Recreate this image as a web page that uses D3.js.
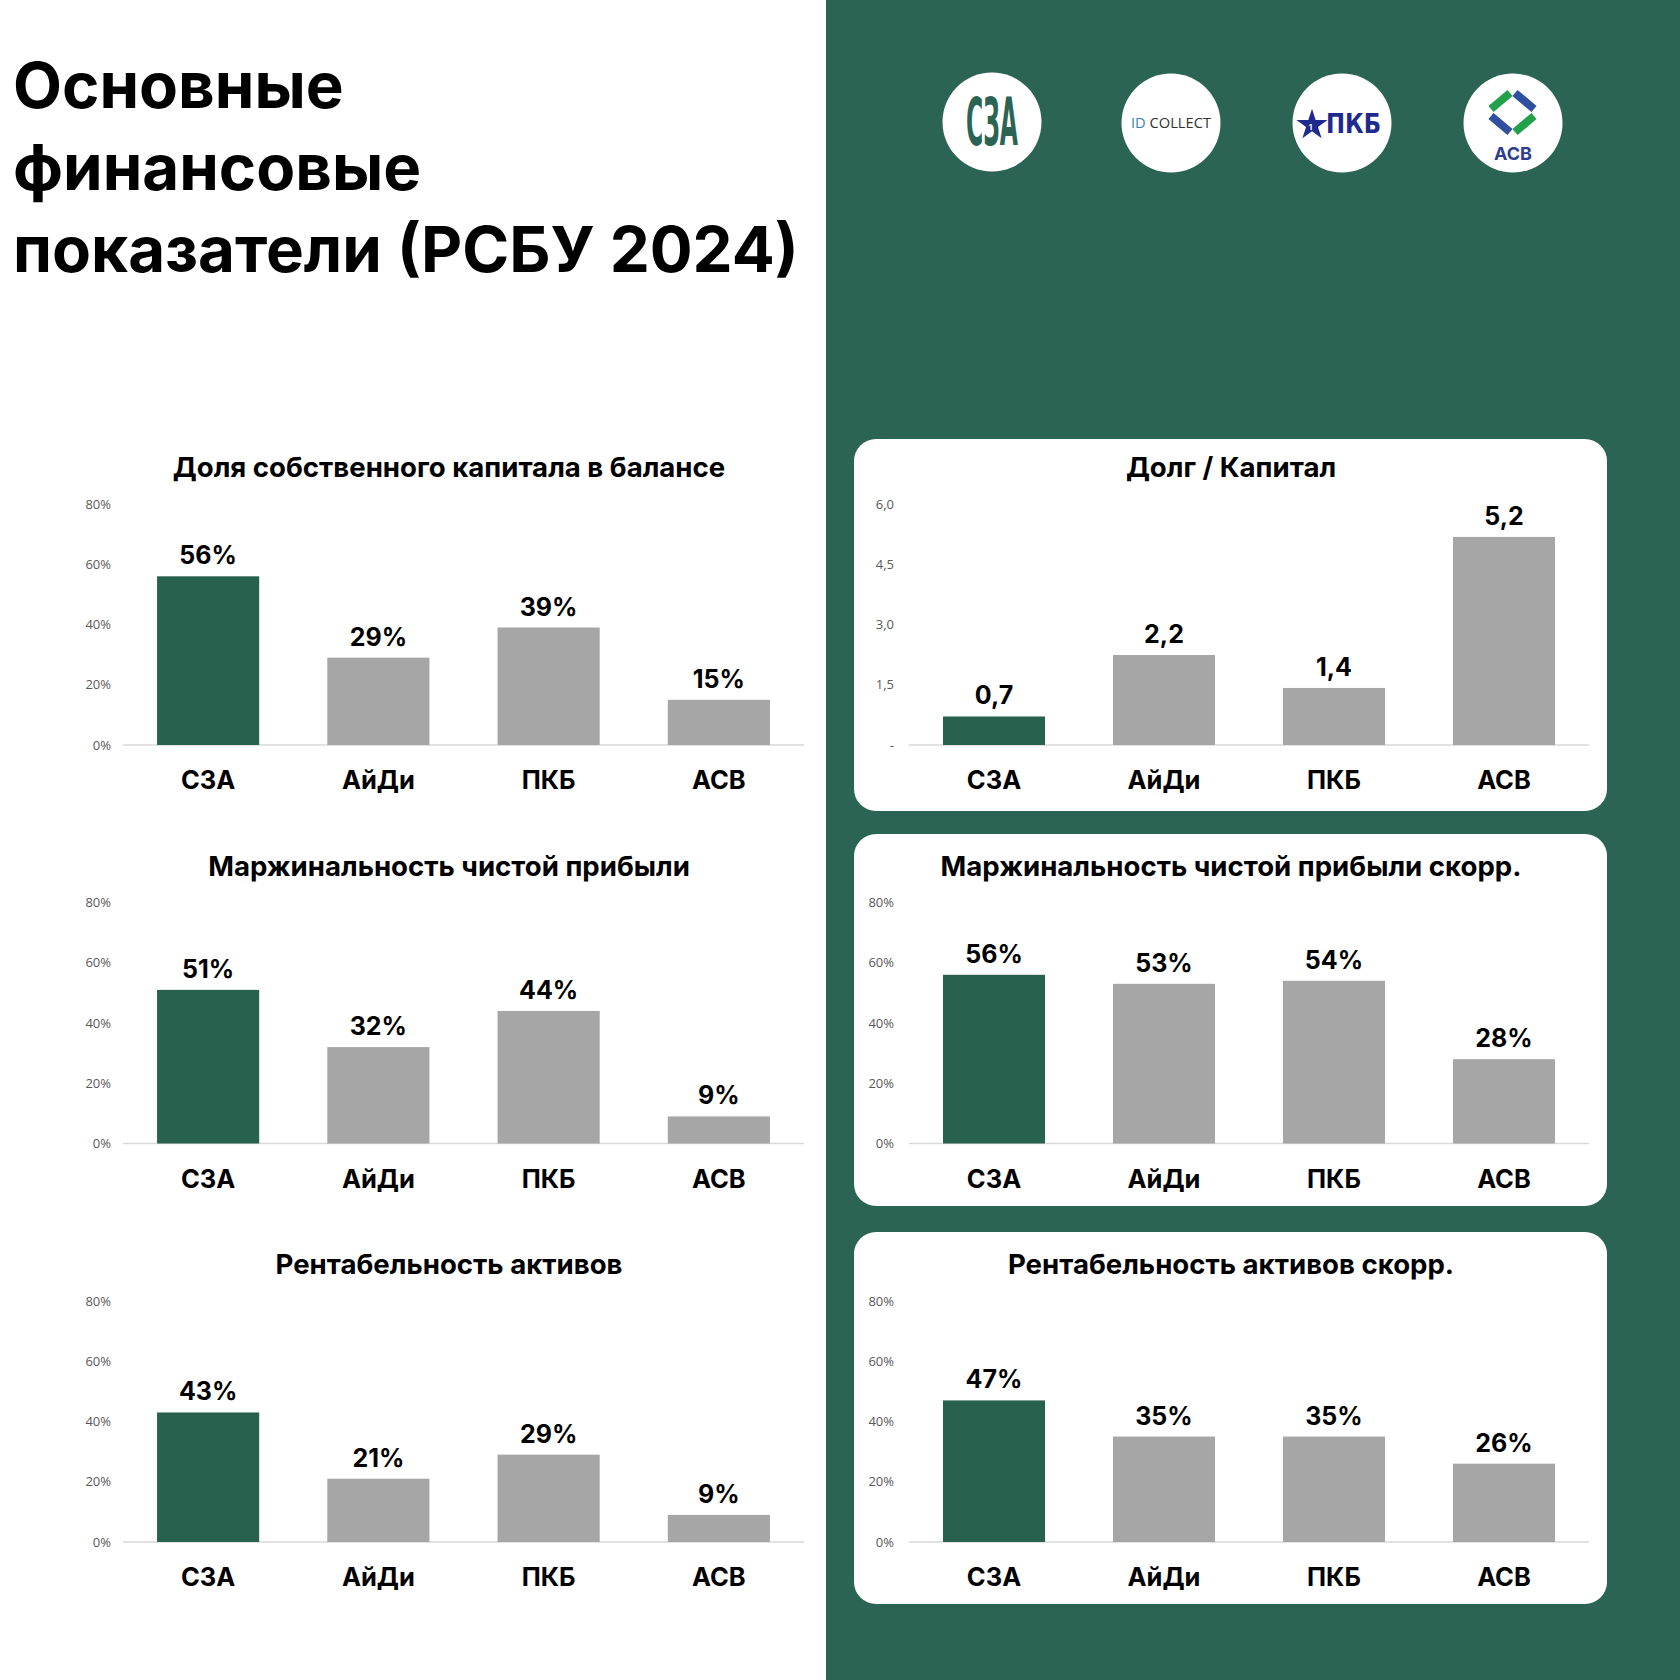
<!DOCTYPE html>
<html><head><meta charset="utf-8">
<script src="https://cdn.jsdelivr.net/npm/d3@7"></script>
<style>body{margin:0;background:#fff} svg{display:block}</style>
</head><body><svg id="c" width="1680" height="1680"></svg>
<script>
// ---------- DATA ----------
const categories = ["СЗА", "АйДи", "ПКБ", "АСВ"];
const equityShare = [56, 29, 39, 15];          // Доля собственного капитала в балансе, %
const netMargin = [51, 32, 44, 9];             // Маржинальность чистой прибыли, %
const roa = [43, 21, 29, 9];                   // Рентабельность активов, %
const debtToEquity = [0.71, 2.24, 1.42, 5.18]; // Долг / Капитал
const netMarginAdj = [56, 53, 54, 28];         // Маржинальность чистой прибыли скорр., %
const roaAdj = [47, 35, 35, 26];               // Рентабельность активов скорр., %
const pctTicks = [0, 20, 40, 60, 80];
const debtTicks = [0, 1.5, 3, 4.5, 6];
const titleLines = ["Основные", "финансовые", "показатели (РСБУ 2024)"];
const chartTitles = ["Доля собственного капитала в балансе", "Маржинальность чистой прибыли",
  "Рентабельность активов", "Долг / Капитал", "Маржинальность чистой прибыли скорр.",
  "Рентабельность активов скорр."];

// ---------- STYLE ----------
const PANEL_GREEN = "#2b6455", BAR_GREEN = "#29614f", GREY = "#a6a6a6";
const FONT = "Inter, 'Noto Sans', 'DejaVu Sans', sans-serif";
const svg = d3.select("#c");

svg.append("rect").attr("width", 1680).attr("height", 1680).attr("fill", "#fff");
svg.append("rect").attr("x", 826).attr("width", 854).attr("height", 1680).attr("fill", PANEL_GREEN);

// ---------- MAIN TITLE ----------
const tl = svg.append("g").attr("font-family", FONT).attr("font-weight", 700).attr("fill", "#000")
  .selectAll("text").data(titleLines).join("text")
  .attr("x", 13).attr("y", (d, i) => 108 + i * 82).attr("font-size", 64).text(d => d);
const wTitle = tl.nodes()[2].getComputedTextLength();
tl.attr("font-size", 64 * 786 / wTitle);

// ---------- LOGOS ----------
const logoCenters = [[992, 122], [1171, 123], [1342, 123], [1513, 123]];
svg.append("g").selectAll("circle").data(logoCenters).join("circle")
  .attr("cx", d => d[0]).attr("cy", d => d[1]).attr("r", 49.5).attr("fill", "#fff");

// logo 1: СЗА
svg.append("text").attr("x", 966).attr("y", 145).attr("font-family", "'Liberation Sans Narrow', 'DejaVu Sans Condensed', sans-serif")
  .attr("font-weight", 700).attr("font-size", 66).attr("fill", PANEL_GREEN)
  .attr("textLength", 52).attr("lengthAdjust", "spacingAndGlyphs").text("СЗА");

// logo 2: ID COLLECT
const t2 = svg.append("text").attr("x", 1131).attr("y", 128).attr("font-family", "'Open Sans', sans-serif")
  .attr("font-size", 14).attr("textLength", 80).attr("lengthAdjust", "spacingAndGlyphs");
t2.append("tspan").attr("fill", "#3b7fc4").text("ID ");
t2.append("tspan").attr("fill", "#333").text("COLLECT");

// logo 3: ПКБ
svg.append("path").attr("d", d3.symbol(d3.symbolStar, 300)()).attr("transform", "translate(1312,125)")
  .attr("fill", "#1f2a8f");
svg.append("text").attr("x", 1310.5).attr("y", 130).attr("font-family", FONT).attr("font-size", 8)
  .attr("font-weight", 700).attr("fill", "#fff").attr("text-anchor", "middle").text("1");
svg.append("text").attr("x", 1326).attr("y", 133).attr("font-family", "'Liberation Sans Narrow', 'DejaVu Sans Condensed', sans-serif")
  .attr("font-weight", 700).attr("font-size", 26).attr("fill", "#1f2a8f")
  .attr("textLength", 55).attr("lengthAdjust", "spacingAndGlyphs").text("ПКБ");

// logo 4: АСВ
const asvSegs = [
  [[1491, 109], [1510, 93], "#22a04a"], [[1515, 93], [1534, 109], "#2f4f9f"],
  [[1491, 116], [1510, 132], "#2f4f9f"], [[1515, 132], [1534, 116], "#22a04a"]];
svg.append("g").selectAll("line").data(asvSegs).join("line")
  .attr("x1", d => d[0][0]).attr("y1", d => d[0][1]).attr("x2", d => d[1][0]).attr("y2", d => d[1][1])
  .attr("stroke", d => d[2]).attr("stroke-width", 8);
svg.append("text").attr("x", 1513).attr("y", 160).attr("text-anchor", "middle").attr("font-family", FONT)
  .attr("font-weight", 700).attr("font-size", 18).attr("fill", "#2e3d8f").text("АСВ");

// ---------- CHARTS ----------
const pctFmt = d => d + "%";
const debtFmt = d => d === 0 ? "-" : d.toFixed(1).replace(".", ",");
const specs = [
  { title: chartTitles[0], values: equityShare, ticks: pctTicks, max: 80, tickFmt: pctFmt, valFmt: pctFmt, side: 0, row: 0 },
  { title: chartTitles[1], values: netMargin, ticks: pctTicks, max: 80, tickFmt: pctFmt, valFmt: pctFmt, side: 0, row: 1 },
  { title: chartTitles[2], values: roa, ticks: pctTicks, max: 80, tickFmt: pctFmt, valFmt: pctFmt, side: 0, row: 2 },
  { title: chartTitles[3], values: debtToEquity, ticks: debtTicks, max: 6, tickFmt: debtFmt, valFmt: d => d.toFixed(1).replace(".", ","), side: 1, row: 0 },
  { title: chartTitles[4], values: netMarginAdj, ticks: pctTicks, max: 80, tickFmt: pctFmt, valFmt: pctFmt, side: 1, row: 1 },
  { title: chartTitles[5], values: roaAdj, ticks: pctTicks, max: 80, tickFmt: pctFmt, valFmt: pctFmt, side: 1, row: 2 }
];
const sides = [{ x0: 123, x1: 804, cx: 449, pad: 12 }, { x0: 909, x1: 1589, cx: 1231, pad: 15 }];
const rowBase = [745, 1143.5, 1542];
const cardTop = [439, 834, 1232];

specs.forEach(sp => {
  const s = sides[sp.side], base = rowBase[sp.row];
  const g = svg.append("g");
  if (sp.side === 1) {
    g.append("rect").attr("x", 854).attr("y", cardTop[sp.row]).attr("width", 753).attr("height", 372)
      .attr("rx", 22).attr("fill", "#fff");
  }
  const x = d3.scaleBand().domain(categories).range([s.x0, s.x1]).paddingInner(0.4).paddingOuter(0.2);
  const y = d3.scaleLinear().domain([0, sp.max]).range([base, base - 241]);

  g.append("text").attr("x", s.cx).attr("y", base - 268).attr("text-anchor", "middle")
    .attr("font-family", FONT).attr("font-weight", 700).attr("font-size", 27.6).attr("fill", "#000").text(sp.title);

  const ya = g.append("g").attr("transform", `translate(${s.x0},0)`)
    .call(d3.axisLeft(y).tickValues(sp.ticks).tickSize(0).tickPadding(s.pad).tickFormat(sp.tickFmt));
  ya.select(".domain").remove();
  ya.selectAll("text").attr("font-family", "'Open Sans', sans-serif").attr("font-size", 13).attr("fill", "#595959");

  g.append("line").attr("x1", s.x0).attr("x2", s.x1).attr("y1", y(0)).attr("y2", y(0))
    .attr("stroke", "#d9d9d9").attr("stroke-width", 1.5);

  g.selectAll("rect.bar").data(sp.values).join("rect").attr("class", "bar")
    .attr("x", (d, i) => x(categories[i])).attr("y", d => y(d))
    .attr("width", x.bandwidth()).attr("height", d => y(0) - y(d))
    .attr("fill", (d, i) => i === 0 ? BAR_GREEN : GREY);

  g.selectAll("text.val").data(sp.values).join("text").attr("class", "val")
    .attr("x", (d, i) => x(categories[i]) + x.bandwidth() / 2).attr("y", d => y(d) - 12)
    .attr("text-anchor", "middle").attr("font-family", FONT).attr("font-weight", 700)
    .attr("font-size", 25).attr("fill", "#000").text(sp.valFmt);

  const xa = g.append("g").attr("transform", `translate(0,${base})`)
    .call(d3.axisBottom(x).tickSize(0).tickPadding(0));
  xa.select(".domain").remove();
  xa.selectAll("text").attr("y", 44).attr("dy", null).attr("font-family", FONT).attr("font-weight", 700)
    .attr("font-size", 25.5).attr("fill", "#000");
});
</script></body></html>
